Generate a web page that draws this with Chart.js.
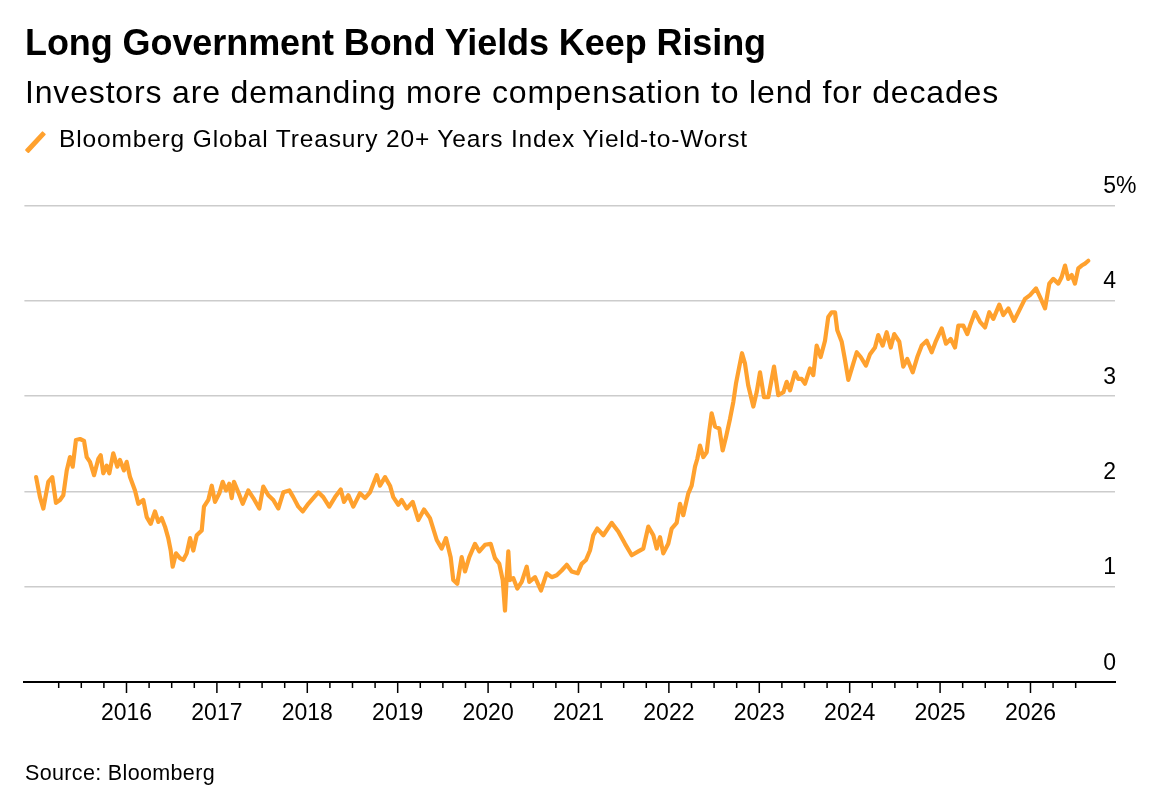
<!DOCTYPE html>
<html>
<head>
<meta charset="utf-8">
<script src="https://cdn.jsdelivr.net/npm/chart.js@4.4.1/dist/chart.umd.min.js"></script>
<style>
  html, body { margin: 0; padding: 0; background: #fff; }
  body { width: 1156px; height: 808px; position: relative; overflow: hidden; font-family: "Liberation Sans", Arial, Helvetica, sans-serif; color: #000; }
  .txt { position: absolute; white-space: nowrap; line-height: 1; }
  #title { left: 25px; top: 24.5px; font-size: 36px; font-weight: bold; }
  #subtitle { left: 25px; top: 75.5px; font-size: 32px; }
  #legendText { left: 59px; top: 127px; font-size: 24.5px; }
  #source { left: 25px; top: 762.5px; font-size: 21.5px; }
  #legendIcon { position: absolute; left: 33px; top: 128.5px; width: 4.5px; height: 26px; background: #ffa12e; transform: rotate(43deg); border-radius: 1px; }
  #wrap { position: absolute; left: 0; top: 0; width: 1156px; height: 808px; }
</style>
</head>
<body>
<div id="wrap"><canvas id="c"></canvas></div>
<div id="title" class="txt">Long Government Bond Yields Keep Rising</div>
<div id="subtitle" class="txt">Investors are demanding more compensation to lend for decades</div>
<div id="legendIcon"></div>
<div id="legendText" class="txt">Bloomberg Global Treasury 20+ Years Index Yield-to-Worst</div>
<div id="source" class="txt">Source: Bloomberg</div>
<script>
// ---- Data (decimal year, yield-to-worst %) ----
const seriesName = "Bloomberg Global Treasury 20+ Years Index Yield-to-Worst";
const years = [
  2015.000, 2015.043, 2015.080, 2015.135, 2015.179, 2015.220, 2015.264, 2015.301, 2015.339, 2015.375,
  2015.405, 2015.441, 2015.486, 2015.530, 2015.560, 2015.596, 2015.641, 2015.688, 2015.715, 2015.743,
  2015.781, 2015.810, 2015.854, 2015.898, 2015.928, 2015.972, 2016.002, 2016.039, 2016.094, 2016.131,
  2016.186, 2016.224, 2016.268, 2016.315, 2016.352, 2016.389, 2016.426, 2016.462, 2016.489, 2016.511,
  2016.548, 2016.592, 2016.628, 2016.666, 2016.703, 2016.739, 2016.777, 2016.832, 2016.857, 2016.905,
  2016.943, 2016.979, 2017.027, 2017.064, 2017.101, 2017.137, 2017.164, 2017.189, 2017.237, 2017.286,
  2017.347, 2017.403, 2017.469, 2017.513, 2017.569, 2017.624, 2017.679, 2017.735, 2017.801, 2017.845,
  2017.901, 2017.949, 2018.011, 2018.066, 2018.122, 2018.177, 2018.243, 2018.307, 2018.370, 2018.406,
  2018.454, 2018.509, 2018.583, 2018.638, 2018.694, 2018.768, 2018.804, 2018.860, 2018.915, 2018.951,
  2019.007, 2019.044, 2019.100, 2019.166, 2019.228, 2019.291, 2019.357, 2019.432, 2019.487, 2019.534,
  2019.586, 2019.615, 2019.659, 2019.708, 2019.745, 2019.792, 2019.855, 2019.903, 2019.966, 2020.029,
  2020.076, 2020.124, 2020.162, 2020.187, 2020.206, 2020.224, 2020.242, 2020.279, 2020.323, 2020.372,
  2020.427, 2020.456, 2020.519, 2020.585, 2020.648, 2020.704, 2020.759, 2020.814, 2020.870, 2020.925,
  2020.991, 2021.035, 2021.083, 2021.127, 2021.164, 2021.208, 2021.275, 2021.367, 2021.440, 2021.515,
  2021.589, 2021.662, 2021.717, 2021.772, 2021.828, 2021.865, 2021.902, 2021.938, 2021.993, 2022.031,
  2022.086, 2022.123, 2022.159, 2022.215, 2022.252, 2022.289, 2022.314, 2022.344, 2022.381, 2022.418,
  2022.447, 2022.473, 2022.510, 2022.558, 2022.595, 2022.632, 2022.676, 2022.713, 2022.742, 2022.779,
  2022.809, 2022.842, 2022.878, 2022.934, 2022.971, 2023.008, 2023.052, 2023.100, 2023.163, 2023.210,
  2023.266, 2023.303, 2023.340, 2023.395, 2023.432, 2023.469, 2023.506, 2023.561, 2023.597, 2023.635,
  2023.679, 2023.727, 2023.763, 2023.801, 2023.838, 2023.863, 2023.912, 2023.948, 2023.985, 2024.033,
  2024.078, 2024.122, 2024.180, 2024.225, 2024.280, 2024.316, 2024.365, 2024.409, 2024.454, 2024.493,
  2024.549, 2024.593, 2024.637, 2024.697, 2024.748, 2024.797, 2024.852, 2024.907, 2024.955, 2025.018,
  2025.065, 2025.117, 2025.165, 2025.202, 2025.257, 2025.301, 2025.339, 2025.386, 2025.442, 2025.497,
  2025.544, 2025.589, 2025.655, 2025.699, 2025.755, 2025.818, 2025.876, 2025.939, 2025.995, 2026.061,
  2026.105, 2026.161, 2026.208, 2026.252, 2026.308, 2026.345, 2026.382, 2026.418, 2026.456, 2026.492,
  2026.529, 2026.566, 2026.603, 2026.640
];
const yields = [
  2.15, 1.94, 1.82, 2.10, 2.15, 1.88, 1.91, 1.96, 2.22, 2.36,
  2.26, 2.54, 2.55, 2.53, 2.36, 2.31, 2.17, 2.34, 2.38, 2.19,
  2.27, 2.19, 2.40, 2.26, 2.33, 2.22, 2.31, 2.15, 2.01, 1.87,
  1.91, 1.73, 1.66, 1.79, 1.68, 1.72, 1.63, 1.51, 1.38, 1.21,
  1.35, 1.30, 1.28, 1.35, 1.51, 1.38, 1.54, 1.59, 1.84, 1.91,
  2.06, 1.89, 1.98, 2.10, 2.01, 2.08, 1.93, 2.10, 1.99, 1.87,
  2.01, 1.93, 1.82, 2.05, 1.96, 1.91, 1.82, 1.99, 2.01, 1.94,
  1.84, 1.79, 1.87, 1.93, 1.99, 1.94, 1.84, 1.94, 2.02, 1.89,
  1.96, 1.84, 1.98, 1.93, 1.99, 2.17, 2.06, 2.15, 2.06, 1.94,
  1.86, 1.91, 1.82, 1.89, 1.70, 1.81, 1.72, 1.49, 1.40, 1.51,
  1.31, 1.07, 1.03, 1.31, 1.16, 1.31, 1.45, 1.37, 1.44, 1.45,
  1.30, 1.24, 1.07, 0.75, 1.10, 1.37, 1.07, 1.09, 0.98, 1.05,
  1.21, 1.05, 1.10, 0.96, 1.14, 1.10, 1.12, 1.17, 1.23, 1.16,
  1.14, 1.24, 1.28, 1.38, 1.54, 1.61, 1.54, 1.67, 1.58, 1.45,
  1.33, 1.37, 1.40, 1.63, 1.54, 1.40, 1.52, 1.35, 1.45, 1.61,
  1.67, 1.87, 1.75, 1.98, 2.06, 2.26, 2.34, 2.48, 2.36, 2.41,
  2.64, 2.82, 2.68, 2.66, 2.43, 2.57, 2.76, 2.94, 3.13, 3.31,
  3.45, 3.34, 3.11, 2.89, 3.04, 3.25, 2.99, 2.99, 3.31, 3.01,
  3.04, 3.15, 3.06, 3.25, 3.18, 3.18, 3.13, 3.29, 3.22, 3.53,
  3.41, 3.58, 3.83, 3.88, 3.88, 3.69, 3.57, 3.38, 3.17, 3.32,
  3.46, 3.41, 3.32, 3.44, 3.51, 3.64, 3.53, 3.67, 3.51, 3.65,
  3.57, 3.31, 3.39, 3.25, 3.41, 3.53, 3.58, 3.46, 3.58, 3.71,
  3.55, 3.60, 3.51, 3.74, 3.74, 3.65, 3.76, 3.88, 3.78, 3.72,
  3.88, 3.81, 3.96, 3.85, 3.92, 3.79, 3.90, 4.02, 4.06, 4.13,
  4.04, 3.92, 4.18, 4.23, 4.18, 4.25, 4.37, 4.23, 4.27, 4.18,
  4.34, 4.37, 4.39, 4.42
];
const yearTicks = [2016, 2017, 2018, 2019, 2020, 2021, 2022, 2023, 2024, 2025, 2026];
const yearLabels = ["2016", "2017", "2018", "2019", "2020", "2021", "2022", "2023", "2024", "2025", "2026"];
const yTicks = [0, 1, 2, 3, 4, 5];
const yLabels = ["0", "1", "2", "3", "4", "5%"];
const minorTickStart = 2015.25;   // quarterly ticks
const minorTickEnd = 2026.5;

// ---- Fit text widths to reference ----
function fitWidth(id, target) {
  const el = document.getElementById(id);
  const n = el.textContent.length;
  el.style.letterSpacing = '0px';
  const w = el.getBoundingClientRect().width;
  el.style.letterSpacing = ((target - w) / n) + 'px';
}
fitWidth('title', 741);
fitWidth('subtitle', 974);
fitWidth('legendText', 689);
fitWidth('source', 190);

const FONT = '"Liberation Sans", Arial, Helvetica, sans-serif';

const axisDecor = {
  id: 'axisDecor',
  afterDraw(chart) {
    const ctx = chart.ctx;
    const xs = chart.scales.x, ys = chart.scales.y;
    const area = chart.chartArea;
    ctx.save();
    // quarterly tick marks
    ctx.strokeStyle = '#000';
    ctx.lineWidth = 1.5;
    const k0 = Math.round(minorTickStart * 4), k1 = Math.round(minorTickEnd * 4);
    for (let k = k0; k <= k1; k++) {
      const px = xs.getPixelForValue(k / 4);
      const len = (k % 4 === 0) ? 11 : 6;
      ctx.beginPath();
      ctx.moveTo(px, area.bottom);
      ctx.lineTo(px, area.bottom + len);
      ctx.stroke();
    }
    // year labels
    ctx.fillStyle = '#000';
    ctx.font = '23px ' + FONT;
    ctx.textAlign = 'center';
    ctx.textBaseline = 'alphabetic';
    yearTicks.forEach((yv, i) => {
      ctx.fillText(yearLabels[i], xs.getPixelForValue(yv), area.bottom + 37.5);
    });
    // y labels (right aligned at gridline end, % hangs outside)
    ctx.font = '23px ' + FONT;
    yTicks.forEach((v, i) => {
      const py = ys.getPixelForValue(v) - 12.5;
      let lab = yLabels[i];
      let suffix = '';
      if (lab.endsWith('%')) { suffix = '%'; lab = lab.slice(0, -1); }
      const rx = area.right + 1;
      ctx.textAlign = 'right';
      ctx.fillText(lab, rx, py);
      if (suffix) { ctx.textAlign = 'left'; ctx.fillText(suffix, rx, py); }
    });
    ctx.restore();
  }
};

const chart = new Chart(document.getElementById('c'), {
  type: 'line',
  data: {
    datasets: [{
      label: seriesName,
      data: years.map((x, i) => ({ x: x, y: yields[i] })),
      borderColor: '#ffa12e',
      backgroundColor: '#ffa12e',
      borderWidth: 4.2,
      pointRadius: 0,
      tension: 0,
      borderJoinStyle: 'round',
      borderCapStyle: 'round',
      fill: false
    }]
  },
  options: {
    responsive: true,
    maintainAspectRatio: false,
    animation: false,
    events: [],
    layout: { autoPadding: false, padding: { left: 24.4, right: 41, top: 205.5, bottom: 126 } },
    plugins: { legend: { display: false }, title: { display: false }, tooltip: { enabled: false } },
    scales: {
      x: {
        type: 'linear',
        min: 2014.8706,
        max: 2026.935,
        afterFit: (s) => { s.height = 0; },
        grid: { display: false },
        border: { display: true, color: '#000', width: 2 },
        ticks: { display: false }
      },
      y: {
        type: 'linear',
        position: 'right',
        min: 0,
        max: 5,
        afterFit: (s) => { s.width = 0; },
        afterBuildTicks: (s) => { s.ticks = yTicks.map(v => ({ value: v })); },
        grid: {
          drawTicks: false,
          color: (c) => (c.tick && c.tick.value === 0) ? 'rgba(0,0,0,0)' : '#cccccc',
          lineWidth: 1.5
        },
        border: { display: false },
        ticks: { display: false }
      }
    }
  },
  plugins: [axisDecor]
});
</script>
</body>
</html>
